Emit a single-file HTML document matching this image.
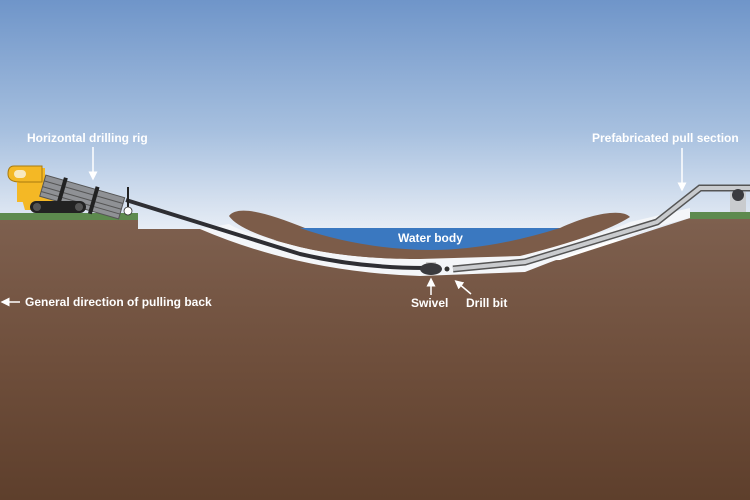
<!DOCTYPE html>
<html><head><meta charset="utf-8"><style>html,body{margin:0;padding:0;width:750px;height:500px;overflow:hidden}</style></head>
<body>
<svg width="750" height="500" viewBox="0 0 750 500" xmlns="http://www.w3.org/2000/svg" font-family="Liberation Sans, sans-serif">
<defs>
<linearGradient id="sky" x1="0" y1="0" x2="0" y2="1">
<stop offset="0" stop-color="#6f95c9"/><stop offset="0.55" stop-color="#a7c0df"/><stop offset="1" stop-color="#eef2f8"/>
</linearGradient>
<linearGradient id="gr" x1="0" y1="0" x2="0" y2="1">
<stop offset="0" stop-color="#7e604f"/><stop offset="0.5" stop-color="#6f4f3c"/><stop offset="1" stop-color="#5e3f2c"/>
</linearGradient>
<marker id="ah" markerWidth="6" markerHeight="6" refX="3" refY="3" orient="auto" markerUnits="strokeWidth"><path d="M0,0 L6,3 L0,6 Z" fill="#fff"/></marker>
</defs>
<rect y="0" width="750" height="240" fill="url(#sky)"/>
<path d="M0,219 L138,219 L138,229 L200,229 L420,262 L560,260 L690,218 L750,218 L750,500 L0,500Z" fill="url(#gr)"/>
<rect x="0" y="213" width="138" height="7" fill="#5d8a4e"/>
<rect x="690" y="212" width="60" height="7" fill="#5d8a4e"/>
<!-- trench -->
<path d="M200,229 L229,224 Q240,232 300,247 Q350,259 420,259 L520,256 Q600,236 630,222 L690,208 L690,218 Q610,238 525,272 L420,276 Q300,272 200,229Z" fill="#f4f6f9"/>
<!-- mound -->
<path d="M229,216 C238,204 270,214 305,228 L560,228 C590,214 622,208 630,217 Q600,236 520,256 L420,259 Q350,259 300,247 Q240,232 229,216Z" fill="#7c5c49"/>
<path d="M300,228 L560,228 Q490,250 430,250 Q360,249 300,228Z" fill="#3a78c0"/>
<text x="398" y="242" fill="#fff" font-size="12" font-weight="bold">Water body</text>
<path d="M126,200 L300,254 Q360,268 425,268" fill="none" stroke="#2e2e33" stroke-width="4"/>
<path d="M453,269 L525,262 L657,222 L700,188 L750,188" fill="none" stroke="#555" stroke-width="7"/>
<path d="M453,269 L525,262 L657,222 L700,188 L750,188" fill="none" stroke="#c9cbce" stroke-width="4"/>
<rect x="730" y="192" width="16" height="20" fill="#c9cbce"/>
<circle cx="738" cy="195" r="6" fill="#3a3a3e"/>
<rect x="426" y="262" width="10" height="4" fill="#ccc"/>
<ellipse cx="431" cy="269" rx="11" ry="6" fill="#3a3a3e"/>
<circle cx="447" cy="269" r="2.5" fill="#333"/>
<!-- rig -->
<rect x="17" y="168" width="28" height="34" fill="#f4b825"/>
<path d="M14,166 L42,166 L42,182 L20,182 Q8,182 8,174 Q8,166 14,166Z" fill="#f4b825" stroke="#a77a10" stroke-width="1"/>
<rect x="14" y="170" width="12" height="8" rx="4" fill="#f8e9c0"/>
<path d="M17,182 L100,205 L85,210 L25,210Z" fill="#f4b825"/>
<g transform="rotate(16 45 178)">
<rect x="45" y="175" width="82" height="22" fill="#8f9195" stroke="#555" stroke-width="1"/>
<line x1="45" y1="181" x2="127" y2="181" stroke="#555"/><line x1="45" y1="187" x2="127" y2="187" stroke="#555"/><line x1="45" y1="192" x2="127" y2="192" stroke="#555"/>
<rect x="63" y="172" width="4" height="28" fill="#222"/><rect x="96" y="172" width="4" height="28" fill="#222"/>
</g>
<rect x="30" y="201" width="56" height="12" rx="6" fill="#222"/>
<circle cx="37" cy="207" r="4" fill="#555"/><circle cx="79" cy="207" r="4" fill="#555"/>
<line x1="128" y1="187" x2="128" y2="210" stroke="#222" stroke-width="2"/>
<circle cx="128" cy="211" r="4" fill="#fff" stroke="#333" stroke-width="0.8"/>
<g fill="#fff" font-size="12" font-weight="bold">
<text x="27" y="142">Horizontal drilling rig</text>
<text x="592" y="142">Prefabricated pull section</text>
<text x="25" y="306">General direction of pulling back</text>
<text x="411" y="307">Swivel</text>
<text x="466" y="307">Drill bit</text>
</g>
<g stroke="#fff" stroke-width="1.5" fill="none">
<line x1="93" y1="147" x2="93" y2="176" marker-end="url(#ah)"/>
<line x1="682" y1="148" x2="682" y2="187" marker-end="url(#ah)"/>
<line x1="20" y1="302" x2="5" y2="302" marker-end="url(#ah)"/>
<line x1="431" y1="295" x2="431" y2="282" marker-end="url(#ah)"/>
<line x1="471" y1="294" x2="458" y2="283" marker-end="url(#ah)"/>
</g>
</svg>
</body></html>
